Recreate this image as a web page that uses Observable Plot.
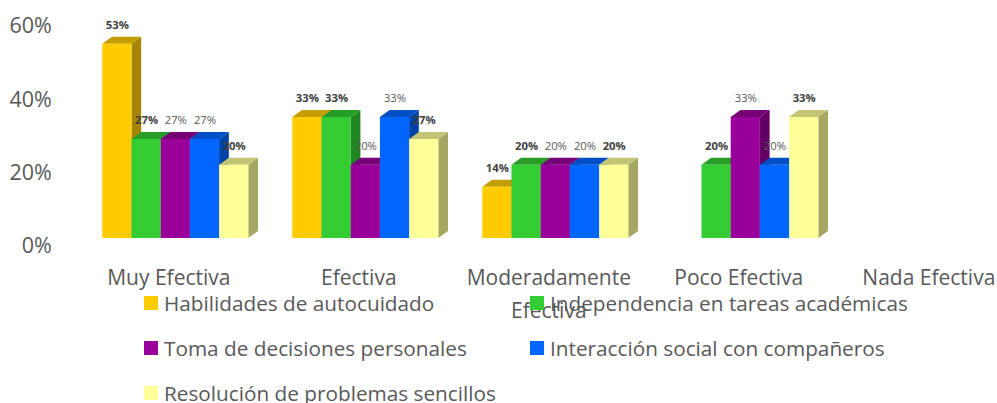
<!DOCTYPE html>
<html>
<head>
<meta charset="utf-8">
<script src="https://cdn.jsdelivr.net/npm/d3@7"></script>
<script src="https://cdn.jsdelivr.net/npm/@observablehq/plot@0.6"></script>
<style>
html,body{margin:0;padding:0;background:#fff;}
#chart{position:relative;width:997px;height:403px;overflow:hidden;font-family:"Open Sans",sans-serif;}
#chart svg{display:block;background:#fff;}
.legend{position:absolute;left:0;top:0;width:997px;height:403px;pointer-events:none;}
.item{position:absolute;display:flex;align-items:center;height:20px;line-height:20px;font-size:20.75px;color:#595959;white-space:nowrap;}
.swatch{display:inline-block;width:14px;height:14px;margin-right:6px;}
</style>
</head>
<body>
<div id="chart"></div>
<script>
const categories = ["Muy Efectiva", "Efectiva", "Moderadamente Efectiva", "Poco Efectiva", "Nada Efectiva"];
const seriesNames = ["Habilidades de autocuidado", "Independencia en tareas académicas", "Toma de decisiones personales", "Interacción social con compañeros", "Resolución de problemas sencillos"];
const colors = ["#FFCC00", "#33CC33", "#990099", "#0066FF", "#FFFF99"];
const habilidades = [53, 33, 14, null, null];
const independencia = [27, 33, 20, 20, null];
const decisiones = [27, 20, 20, 33, null];
const interaccion = [27, 33, 20, 20, null];
const resolucion = [20, 27, 20, 33, null];
const boldSeries = [seriesNames[0], seriesNames[1], seriesNames[4]];
const yTicks = [0, 20, 40, 60];

const allValues = [habilidades, independencia, decisiones, interaccion, resolucion];
const rows = [];
seriesNames.forEach((s, i) => categories.forEach((c, j) => {
  if (allValues[i][j] != null) rows.push({category: c, series: s, value: allValues[i][j]});
}));

const DEPTH_X = 9.7, DEPTH_Y = 7;
function shade(col, k) {
  const c = d3.rgb(col);
  return d3.rgb(c.r * k, c.g * k, c.b * k).formatHex();
}
// Adds the top and side faces of the 3D column behind each scaled front rect.
function extrude(index, scales, values, dimensions, context, next) {
  const g = next(index, scales, values, dimensions, context);
  d3.select(g).selectAll("rect").each(function () {
    const r = d3.select(this);
    const x = +r.attr("x"), y = +r.attr("y"), w = +r.attr("width"), h = +r.attr("height");
    const fill = r.attr("fill");
    const ns = "http://www.w3.org/2000/svg";
    const top = document.createElementNS(ns, "polygon");
    top.setAttribute("points", [[x, y], [x + DEPTH_X, y - DEPTH_Y], [x + w + DEPTH_X, y - DEPTH_Y], [x + w, y]].join(" "));
    top.setAttribute("fill", shade(fill, 0.77));
    const side = document.createElementNS(ns, "polygon");
    side.setAttribute("points", [[x + w, y], [x + w + DEPTH_X, y - DEPTH_Y], [x + w + DEPTH_X, y + h - DEPTH_Y], [x + w, y + h]].join(" "));
    side.setAttribute("fill", shade(fill, 0.65));
    this.parentNode.insertBefore(side, this);
    this.parentNode.insertBefore(top, this);
  });
  return g;
}

const labelFont = '"Open Sans", sans-serif';
const plot = Plot.plot({
  width: 997,
  height: 403,
  marginTop: 18,
  marginBottom: 165,
  marginLeft: 0,
  marginRight: 0,
  style: {fontFamily: labelFont, background: "#fff", overflow: "visible"},
  fx: {domain: categories, range: [102.3, 1008.3], paddingInner: 44 / 190, paddingOuter: 0, round: false, label: null},
  x: {domain: seriesNames, padding: 0, round: false, axis: null, label: null},
  y: {domain: [0, 60], label: null},
  color: {domain: seriesNames, range: colors},
  marks: [
    Plot.barY(rows, {fx: "category", x: "series", y: "value", fill: "series", inset: 0, render: extrude}),
    Plot.text(rows.filter(d => boldSeries.includes(d.series)), {
      fx: "category", x: "series", y: "value", text: d => d.value + "%", dy: -19,
      fontSize: 11.3, fontWeight: "bold", fill: "#404040"
    }),
    Plot.text(rows.filter(d => !boldSeries.includes(d.series)), {
      fx: "category", x: "series", y: "value", text: d => d.value + "%", dy: -19,
      fontSize: 11.3, fill: "#595959"
    }),
    Plot.axisY({
      ticks: yTicks, tickSize: 0, tickPadding: 51, dy: 8, label: null,
      tickFormat: d => d + "%", fontSize: 21.5, fill: "#595959"
    }),
    Plot.axisFx({
      anchor: "bottom", tickSize: 0, tickPadding: 0, dx: -7, dy: 23, label: null,
      tickFormat: d => d === "Moderadamente Efectiva" ? "Moderadamente\nEfectiva" : d,
      fontSize: 21, lineHeight: 1.56, fill: "#595959"
    })
  ]
});

const chart = document.getElementById("chart");
chart.appendChild(plot);

const legend = document.createElement("div");
legend.className = "legend";
const legendX = [144, 530];
const legendY = [303, 348, 393];
seriesNames.forEach((s, i) => {
  const item = document.createElement("div");
  item.className = "item";
  item.style.left = legendX[i % 2] + "px";
  item.style.top = (legendY[Math.floor(i / 2)] - 10) + "px";
  const sw = document.createElement("span");
  sw.className = "swatch";
  sw.style.background = colors[i];
  item.appendChild(sw);
  item.appendChild(document.createTextNode(s));
  legend.appendChild(item);
});
chart.appendChild(legend);
</script>
</body>
</html>
